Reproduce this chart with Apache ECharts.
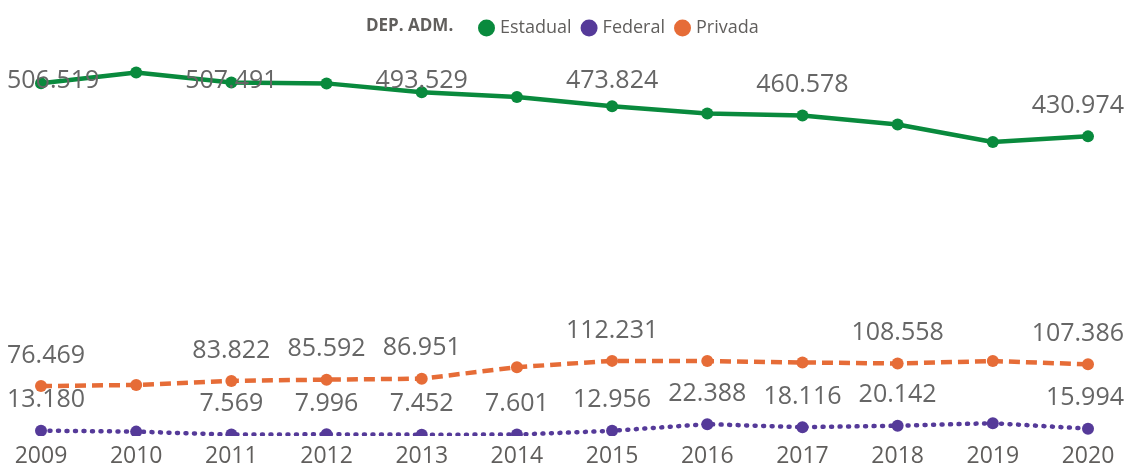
<!DOCTYPE html>
<html>
<head>
<meta charset="utf-8">
<script src="https://cdn.jsdelivr.net/npm/echarts@6/dist/echarts.min.js"></script>
<style>
  html, body { margin: 0; padding: 0; background: #fff; }
  #chart { width: 1125px; height: 468px; }
</style>
</head>
<body>
<div id="chart"></div>
<script>
const years = ['2009', '2010', '2011', '2012', '2013', '2014', '2015', '2016', '2017', '2018', '2019', '2020'];
const estadual = [506519, 521500, 507491, 506200, 493529, 487000, 473824, 463500, 460578, 447800, 423000, 430974];
const federal  = [13180, 11800, 7569, 7996, 7452, 7601, 12956, 22388, 18116, 20142, 23800, 15994];
const privada  = [76469, 78000, 83822, 85592, 86951, 103300, 112231, 112000, 110000, 108558, 112000, 107386];
// pontos que exibem rótulo (1 = mostra)
const estadualLabels = [1, 0, 1, 0, 1, 0, 1, 0, 1, 0, 0, 1];
const federalLabels  = [1, 0, 1, 1, 1, 1, 1, 1, 1, 1, 0, 1];
const privadaLabels  = [1, 0, 1, 1, 1, 0, 1, 0, 0, 1, 0, 1];

const FONT = '"Open Sans", "Noto Sans", sans-serif';
const Y_MIN = 7000;

/** 506519 -> "506.519" */
function fmt(v) {
  return String(v).replace(/\B(?=(\d{3})+(?!\d))/g, '.');
}

function points(values, flags) {
  return values.map((v, i) => ({ value: v, label: { show: flags[i] === 1 } }));
}

// mantém os rótulos dentro da área do gráfico (como no Power BI)
function clampLabel(p) {
  const r = p.labelRect;
  return {
    x: Math.min(Math.max(r.x, 7), 1124 - r.width),
    y: Math.max(r.y, 68),
    align: 'left',
    verticalAlign: 'top'
  };
}

function lineSeries(name, values, flags, color, width, type, cap) {
  return {
    name: name,
    type: 'line',
    data: points(values, flags),
    symbol: 'circle',
    symbolSize: 12,
    showAllSymbol: true,
    itemStyle: { color: color },
    lineStyle: { color: color, width: width, type: type, cap: cap },
    label: {
      position: 'top',
      distance: 12,
      color: '#666',
      fontFamily: FONT,
      fontSize: 25,
      formatter: p => fmt(p.value)
    },
    labelLayout: clampLabel,
    emphasis: { disabled: true }
  };
}

const chart = echarts.init(document.getElementById('chart'));
chart.setOption({
  animation: false,
  title: {
    text: 'DEP. ADM.',
    left: 361,
    top: 13,
    textStyle: { fontFamily: FONT, fontSize: 17, fontWeight: 'bold', color: '#605E5C' }
  },
  legend: {
    data: ['Estadual', 'Federal', 'Privada'],
    left: 473,
    top: 14,
    icon: 'circle',
    itemWidth: 17,
    itemHeight: 17,
    itemGap: 9,
    textStyle: { fontFamily: FONT, fontSize: 18, color: '#605E5C' }
  },
  grid: { left: 41, right: 37, top: 60, bottom: 32 },
  xAxis: {
    type: 'category',
    data: years,
    boundaryGap: false,
    axisLine: { show: false },
    axisTick: { show: false },
    axisLabel: { color: '#605E5C', fontFamily: FONT, fontSize: 23, margin: 10 }
  },
  yAxis: {
    type: 'value',
    min: Y_MIN,
    max: 539400,
    show: false,
    splitLine: { show: false }
  },
  series: [
    lineSeries('Estadual', estadual, estadualLabels, '#098A3D', 4.5, 'solid', 'butt'),
    lineSeries('Federal', federal, federalLabels, '#553A99', 4.5, [1, 7.5], 'round'),
    lineSeries('Privada', privada, privadaLabels, '#E66C37', 4.5, [11, 6], 'butt')
  ]
});

// faixa branca abaixo da área de plotagem: corta os marcadores no limite inferior, como no original
const bottomY = chart.convertToPixel({ yAxisIndex: 0 }, Y_MIN);
chart.setOption({
  graphic: [{
    type: 'rect',
    z: 100,
    silent: true,
    shape: { x: 0, y: bottomY + 1, width: 1125, height: 9 },
    style: { fill: '#fff' }
  }]
});
</script>
</body>
</html>
